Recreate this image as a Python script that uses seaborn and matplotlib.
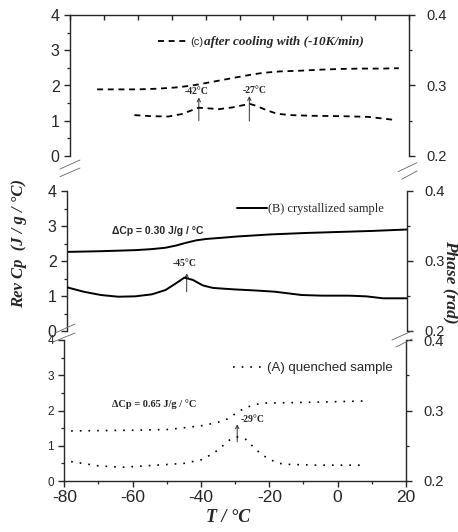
import numpy as np
import pandas as pd
import seaborn as sns
import matplotlib.pyplot as plt
from matplotlib.lines import Line2D
from matplotlib.ticker import MultipleLocator

# (C) after cooling with -10 K/min
c_cp_t = [-72, -66, -60, -54, -48, -44, -41, -36, -31, -27, -23, -18, -12, -6, 0, 6, 12, 17]
c_cp = [1.89, 1.89, 1.89, 1.91, 1.95, 2.00, 2.05, 2.14, 2.23, 2.30, 2.36, 2.40, 2.42, 2.45, 2.47, 2.48, 2.48, 2.49]
c_ph_t = [-61, -56, -51, -47, -44, -42, -39, -36, -32, -29, -27, -25, -22, -19, -15, -8, 0, 8, 16]
c_ph = [0.258, 0.2565, 0.256, 0.2595, 0.265, 0.2685, 0.2675, 0.2665, 0.269, 0.272, 0.274,
        0.271, 0.265, 0.260, 0.258, 0.257, 0.2565, 0.2555, 0.251]

# (B) crystallized sample
b_cp_t = [-80, -70, -60, -55, -51, -48, -45, -42, -39, -35, -30, -20, -10, 0, 10, 20]
b_cp = [2.26, 2.28, 2.31, 2.34, 2.38, 2.44, 2.52, 2.59, 2.63, 2.66, 2.70, 2.76, 2.80, 2.83, 2.86, 2.90]
b_ph_t = [-80, -75, -70, -65, -60, -55, -51, -48, -45.5, -43, -40, -37, -31, -25, -19, -11, -5, 3, 8, 13, 20]
b_ph = [0.2624, 0.256, 0.2514, 0.249, 0.2495, 0.2524, 0.2586, 0.268, 0.2762, 0.273, 0.265,
        0.2615, 0.2595, 0.258, 0.2562, 0.2514, 0.2505, 0.2505, 0.2495, 0.2467, 0.2467]

# (A) quenched sample
a_cp_t = [-78, -70, -60, -50, -44, -39, -34.5, -32, -29.5, -27, -24, -21.5, -15, -5, 8]
a_cp = [1.42, 1.43, 1.44, 1.46, 1.52, 1.58, 1.68, 1.77, 1.94, 2.08, 2.17, 2.21, 2.22, 2.24, 2.27]
a_ph_t = [-78, -70, -63, -53, -45, -40, -36.4, -34.2, -31.7, -29.3, -26.9, -24.5, -22.1, -19.8, -17.3, -14, -6, 8]
a_ph = [0.2275, 0.2215, 0.2195, 0.2225, 0.225, 0.230, 0.239, 0.2475, 0.258, 0.2625, 0.259,
        0.2475, 0.237, 0.2305, 0.225, 0.2235, 0.2225, 0.2225]

W, H = 458, 532
SERIF = "Liberation Serif"
SANS = "Liberation Sans"

sns.set_style("ticks")
plt.rcParams["font.family"] = [SANS, "DejaVu Sans"]
plt.rcParams["axes.linewidth"] = 1.0
plt.rcParams["axes.unicode_minus"] = False

fig = plt.figure(figsize=(W / 100, H / 100), dpi=100)


def box(l, t, r, b):
    return [l / W, 1 - b / H, (r - l) / W, (b - t) / H]


def setup(ax, axr, left_size=11.5):
    ax.set_xlim(-80, 20)
    ax.set_ylim(0, 4)
    axr.set_ylim(0.2, 0.4)
    ax.yaxis.set_major_locator(MultipleLocator(1))
    ax.yaxis.set_minor_locator(MultipleLocator(0.5))
    axr.yaxis.set_major_locator(MultipleLocator(0.1))
    axr.yaxis.set_minor_locator(MultipleLocator(0.05))
    ax.spines["right"].set_visible(False)
    for s in ["top", "bottom", "left"]:
        axr.spines[s].set_visible(False)
    ax.tick_params(axis="y", which="major", direction="out", length=4.5, width=1,
                   labelsize=left_size, pad=3)
    ax.tick_params(axis="y", which="minor", direction="out", length=2.5, width=0.9)
    axr.tick_params(axis="y", which="major", direction="out", length=4.5, width=1,
                    labelsize=10.5, pad=8)
    axr.tick_params(axis="y", which="minor", direction="out", length=2.5, width=0.9)
    axr.set_ylabel("")
    ax.set_ylabel("")
    ax.set_xlabel("")


def note(ax, txt, x, y, fam=SERIF, ha="center", size=7):
    ax.text(x, y, txt, fontsize=size, fontfamily=fam, fontweight="bold", ha=ha, va="center")


def arrow(ax, x, y0, y1):
    ax.annotate("", xy=(x, y1), xytext=(x, y0),
                arrowprops=dict(arrowstyle="->", lw=0.7, color="0.2", mutation_scale=6,
                                shrinkA=0, shrinkB=0))


# ---- panel C (top)
ax_c = fig.add_axes(box(70, 15, 409, 156))
ax_cr = ax_c.twinx()
dash_c = (0, (3.3, 2.6))
sns.lineplot(x=c_cp_t, y=c_cp, ax=ax_c, color="k", lw=1.3, linestyle=dash_c)
sns.lineplot(x=c_ph_t, y=c_ph, ax=ax_cr, color="k", lw=1.3, linestyle=dash_c)
setup(ax_c, ax_cr)
ax_c.spines["bottom"].set_visible(False)
ax_c.xaxis.set_ticks_position("top")
ax_c.xaxis.set_major_locator(MultipleLocator(10))
ax_c.tick_params(axis="x", which="both", direction="in", length=3.5, width=1,
                 labeltop=False, labelbottom=False)
ax_c.legend(handles=[ax_c.get_lines()[0]], labels=["(c)"], loc="center left",
            bbox_to_anchor=(0.26, 0.81), frameon=False, borderpad=0,
            borderaxespad=0, handlelength=2.75, handletextpad=0.1,
            prop=dict(family=SANS, size=8))
ax_c.text(0.395, 0.81, "after cooling with (-10K/min)", transform=ax_c.transAxes,
          ha="left", va="center", fontsize=9.5, fontfamily=SERIF,
          fontweight="bold", fontstyle="italic")
note(ax_c, "-42°C", -42.7, 1.82)
note(ax_c, "-27°C", -25.6, 1.87)
arrow(ax_c, -42, 1.0, 1.66)
arrow(ax_c, -27.1, 0.99, 1.70)

# ---- panel B (middle)
ax_b = fig.add_axes(box(67, 181, 407, 323))
ax_br = ax_b.twinx()
ax_br.set_position(box(67, 191, 407, 331))
sns.lineplot(x=b_cp_t, y=b_cp, ax=ax_b, color="k", lw=1.4)
sns.lineplot(x=b_ph_t, y=b_ph, ax=ax_br, color="k", lw=1.4)
setup(ax_b, ax_br)
ax_b.spines["top"].set_visible(False)
ax_b.spines["bottom"].set_visible(False)
ax_b.tick_params(axis="x", which="both", bottom=False, top=False,
                 labelbottom=False, labeltop=False)
ax_b.legend(handles=[ax_b.get_lines()[0]], labels=["(B) crystallized sample"],
            loc="center left", bbox_to_anchor=(0.5, 0.871), frameon=False, borderpad=0,
            borderaxespad=0, handlelength=2.4, handletextpad=0.1,
            prop=dict(family=SERIF, size=9))
note(ax_b, "ΔCp = 0.30 J/g / °C", -66.8, 2.85, fam=SANS, ha="left", size=7.5)
note(ax_b, "-45°C", -45.3, 1.94)
arrow(ax_b, -44.8, 1.12, 1.65)

# ---- panel A (bottom)
ax_a = fig.add_axes(box(64.3, 340, 406, 481))
ax_ar = ax_a.twinx()
dot_a = (0, (1, 4.2))
sns.lineplot(x=a_cp_t, y=a_cp, ax=ax_a, color="k", lw=1.2, linestyle=dot_a)
sns.lineplot(x=a_ph_t, y=a_ph, ax=ax_ar, color="k", lw=1.2, linestyle=dot_a)
setup(ax_a, ax_ar, left_size=8.5)
ax_a.spines["top"].set_visible(False)
ax_a.xaxis.set_major_locator(MultipleLocator(20))
ax_a.xaxis.set_minor_locator(MultipleLocator(10))
ax_a.tick_params(axis="x", which="major", direction="out", length=4.5, width=1,
                 labelsize=12.5, pad=2, top=False)
ax_a.tick_params(axis="x", which="minor", direction="out", length=2.5, width=0.9, top=False)
ax_a.legend(handles=[ax_a.get_lines()[0]], labels=["(A) quenched sample"],
            loc="center left", bbox_to_anchor=(0.494, 0.80), frameon=False, borderpad=0,
            borderaxespad=0, handlelength=2.3, handletextpad=0.3,
            prop=dict(family=SANS, size=9.5))
note(ax_a, "ΔCp = 0.65 J/g / °C", -66.1, 2.17, ha="left", size=7.5)
note(ax_a, "-29°C", -28.5, 1.75, ha="left")
arrow(ax_a, -29.4, 1.11, 1.61)

# axis titles
lab = dict(fontfamily=SERIF, fontweight="bold", fontstyle="italic")
fig.text(19 / W, 1 - 243 / H, "Rev Cp  (J / g / °C)", rotation=90, ha="center",
         va="center", fontsize=12, **lab)
fig.text(451 / W, 1 - 282 / H, "Phase (rad)", rotation=270, ha="center",
         va="center", fontsize=12.5, **lab)
fig.text(228 / W, 1 - 518 / H, "T / °C", ha="center", va="center", fontsize=13, **lab)

# axis break marks
breaks = [
    ((60, 169), (80, 160)), ((60, 176.7), (80, 168)),
    ((398, 171.7), (417, 162.7)), ((401.7, 179.3), (417, 171)),
    ((55, 333), (75, 324)), ((53, 342), (75, 333)),
    ((392, 340), (412, 331)), ((396, 347), (412, 339)),
]
for (x0, y0), (x1, y1) in breaks:
    fig.add_artist(Line2D([x0 / W, x1 / W], [1 - y0 / H, 1 - y1 / H],
                          transform=fig.transFigure, color="0.4", lw=0.6))

fig.savefig("out.png", dpi=100)
